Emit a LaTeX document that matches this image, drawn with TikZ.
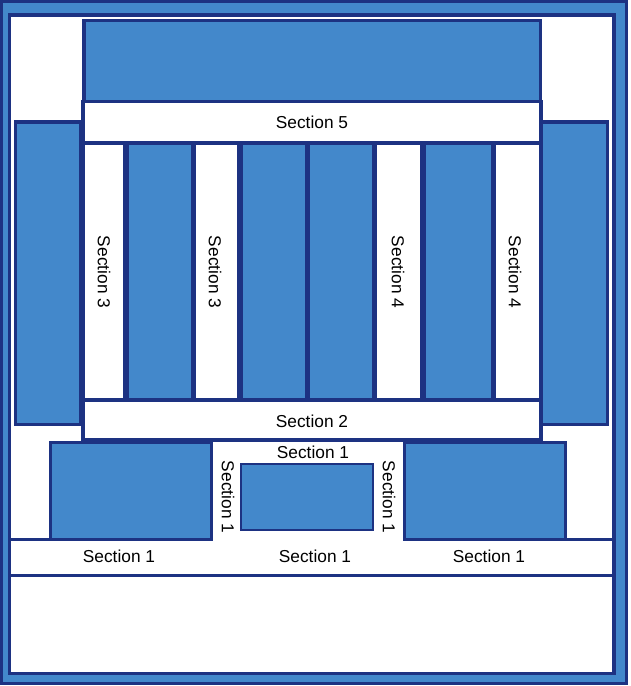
\documentclass[tikz,border=0pt]{standalone}
\usepackage{fontspec}
\setmainfont{Liberation Sans}
\definecolor{lb}{RGB}{67,136,203}
\definecolor{db}{RGB}{29,50,130}
\begin{document}
\begin{tikzpicture}[x=1pt,y=-1pt,
  blk/.style={fill=lb,draw=db,line width=3.6pt},
  wht/.style={fill=white,draw=db,line width=3.6pt},
  col/.style={fill=lb,draw=db,line width=5.5pt},
  lbl/.style={inner sep=0pt,font=\fontsize{17.3}{20}\selectfont},
  vlbl/.style={lbl,rotate=-90}]
\useasboundingbox (0,0) rectangle (631,686);
\fill[white] (0,0) rectangle (631,686);
\fill[db] (0,0) rectangle (628,685);
\fill[lb] (3,3) rectangle (625,682);
\filldraw[wht,line width=3.5pt] (9.5,15) rectangle (614,673.5);
% bottom band
\draw[db,line width=3.5pt] (9.5,575.5) -- (614,575.5);
\draw[db,line width=3.5pt] (9.5,539.5) -- (50.5,539.5);
\draw[db,line width=3.5pt] (565.5,539.5) -- (614,539.5);
% tall side blocks
\filldraw[blk] (15.5,122) rectangle (81,424.5);
\filldraw[blk] (541,122) rectangle (607.5,424.5);
% top block
\filldraw[blk] (84,20.5) rectangle (540.5,101.5);
% middle frame and columns
\fill[white] (83,143) rectangle (541,400);
\begin{scope}
\clip (83,143) rectangle (541,400);
\filldraw[col] (126,130) rectangle (193.5,410);
\filldraw[col] (240,130) rectangle (307.5,410);
\filldraw[col] (307.5,130) rectangle (374.5,410);
\filldraw[col] (423,130) rectangle (493.5,410);
\end{scope}
\draw[db,line width=3.6pt] (83,143) rectangle (541,400);
\filldraw[wht] (83,101.5) rectangle (541,143);
\filldraw[wht] (83,400) rectangle (541,440);
% lower blocks
\filldraw[blk] (50.5,442.5) rectangle (211.5,539.5);
\filldraw[blk] (404.5,442.5) rectangle (565.5,539.5);
\filldraw[fill=lb,draw=db,line width=2pt] (241,464) rectangle (373,530);
% labels
\node[lbl] (s5) at (312,122) {Section 5};
\node[lbl] (s2) at (312,421) {Section 2};
\node[lbl] (s1t) at (313,452) {Section 1};
\node[vlbl] (s1l) at (228,497) {Section 1};
\node[vlbl] (s1r) at (389,497) {Section 1};
\node[lbl] (s1a) at (119,556) {Section 1};
\node[lbl] (s1b) at (315,556) {Section 1};
\node[lbl] (s1c) at (489,556) {Section 1};
\node[vlbl] (s3a) at (104,272) {Section 3};
\node[vlbl] (s3b) at (215,272) {Section 3};
\node[vlbl] (s4a) at (398,272) {Section 4};
\node[vlbl] (s4b) at (515,272) {Section 4};
\end{tikzpicture}
\end{document}
